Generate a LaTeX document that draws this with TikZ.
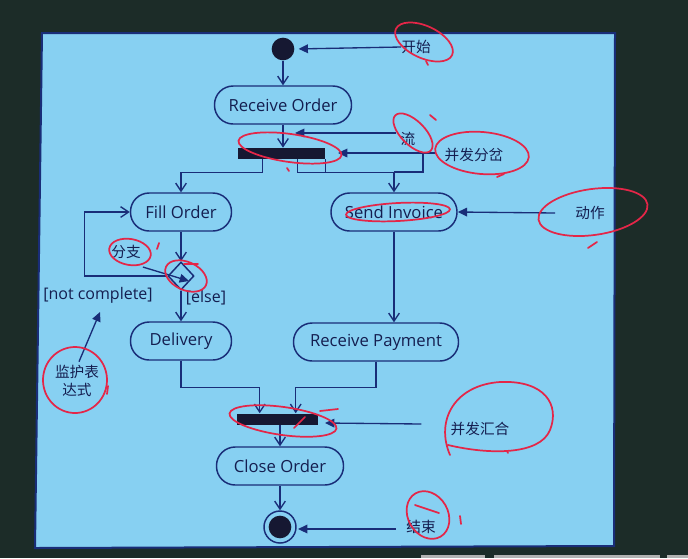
\documentclass[tikz,border=0pt]{standalone}
\usepackage{fontspec}
\setmainfont{Open Sans}
\newfontfamily\cjk{Noto Sans CJK SC}
\usetikzlibrary{arrows.meta,shapes.geometric,calc}
\definecolor{bgc}{RGB}{28,44,40}
\definecolor{panelc}{RGB}{135,208,242}
\definecolor{navy}{RGB}{25,45,120}
\definecolor{textc}{RGB}{20,30,80}
\definecolor{barc}{RGB}{22,24,50}
\definecolor{pen}{RGB}{228,38,72}
\tikzset{
  act/.style={draw=navy, line width=1.1pt, rounded corners=14pt, minimum height=28.5pt, inner sep=0pt, text=textc, font=\fontsize{12.5}{14}\selectfont},
  bar/.style={fill=barc, minimum height=8.25pt, inner sep=0pt},
  flow/.style={draw=navy, line width=1pt, -{Straight Barb[length=6pt,width=8pt]}},
  plainline/.style={draw=navy, line width=1pt},
  note/.style={draw=navy, line width=1pt, -{Triangle[length=7pt,width=6.5pt]}},
  cn/.style={inner sep=0pt, text=textc, font=\cjk\fontsize{11}{13}\selectfont},
  guard/.style={inner sep=0pt, text=textc, font=\fontsize{12}{14}\selectfont},
  redpen/.style={draw=pen, line width=1.3pt, line cap=round},
}
\begin{document}
\begin{tikzpicture}[x=0.75pt,y=-0.75pt]
\useasboundingbox (0,0) rectangle (688,558);
\fill[bgc] (0,0) rectangle (688,558);
% screen panel
\filldraw[fill=panelc, draw=navy, line width=1.5pt] (42,33) -- (615,33) -- (614,546) -- (35,548) -- cycle;
% bottom strips
\fill[gray!60] (421,555) rectangle (485,558);
\fill[gray!60] (494,555) rectangle (660,558);
\fill[gray!60] (667,555) rectangle (688,558);

% activity nodes
\node[circle, fill=barc, minimum size=17pt, inner sep=0pt] (init) at (283,49) {};
\node[act, minimum width=102.75pt] (ro) at (283,105) {Receive Order};
\node[bar, minimum width=65.25pt] (fork) at (281.5,153.5) {};
\node[act, minimum width=75.75pt] (fo) at (181,212) {Fill Order};
\node[act, minimum width=94.5pt] (si) at (394,212) {Send Invoice};
\node[diamond, draw=navy, line width=1.1pt, minimum width=19.5pt, minimum height=21pt, inner sep=0pt] (dec) at (181,276) {};
\node[act, minimum width=75.75pt] (dl) at (181,341) {Delivery};
\node[act, minimum width=123.75pt] (rp) at (376,342) {Receive Payment};
\node[bar, minimum width=60.75pt] (join) at (277.5,419) {};
\node[act, minimum width=95.25pt] (co) at (280,466) {Close Order};
\node[circle, draw=navy, line width=1.1pt, minimum size=24pt, inner sep=0pt] (fin) at (280,527) {};
\node[circle, fill=barc, minimum size=17pt, inner sep=0pt] (finin) at (fin) {};

% guards
\node[guard] (else) at (206,298) {[else]};
\node[guard] (nc) at (98,295) {[not complete]};

% flows
\draw[flow] (init) -- (ro);
\draw[flow] (ro) -- (ro |- fork.north);
\draw[flow] ($(fork.south west)+(25,0)$) -- ++(0,13) -| (fo.north);
\draw[flow] ($(fork.south west)+(60,0)$) -- ++(0,13) -| (si.north);
\draw[plainline] (fork.south east) -- ++(0,13);
\coordinate (brk) at (423,172);
\draw[plainline] (si.north |- brk) -- (brk) -- ++(0,-19);
\draw[flow] (fo) -- (dec);
\draw[flow] (dec.west) -- ++(-83,0) |- (fo.west);
\draw[flow] (dec) -- (dl);
\draw[flow] (si.south) -- (si.south |- rp.north);
\draw[flow] (dl.south) -- ++(0,27) -| ($(join.north west)+(23,0)$);
\draw[flow] (rp.south) -- ++(0,26) -| ($(join.north west)+(59,0)$);
\draw[flow] (join.south -| co) -- (co);
\draw[flow] (co) -- (fin);

% annotations
\node[cn] (tStart) at (416,47) {开始};
\draw[note, shorten >=3pt] (tStart.west) -- (init.east);
\node[cn] (tFlow) at (408,139) {流};
\coordinate (flowpt) at (295,133);
\draw[note] ($(tFlow.west)+(-4,-6)$) -- (flowpt);
\node[cn] (tFork) at (474,155) {并发分岔};
\coordinate (forkpt) at (338,153);
\draw[note] ($(tFork.west)+(-8,-2)$) -- (forkpt);
\node[cn] (tAct) at (590,213) {动作};
\draw[note] ($(tAct.west)+(-20,0)$) -- (si.east);
\node[cn] (tBr) at (126,252) {分支};
\coordinate (brpt) at (189,281);
\draw[note] ($(tBr.south east)+(2,8)$) -- (brpt);
\node[cn, align=center, font=\cjk\fontsize{11}{14}\selectfont] (tGuard) at (77,381) {监护表\\达式};
\coordinate (guardpt) at (100,312);
\draw[note] ($(tGuard.north)+(2,-3)$) -- (guardpt);
\node[cn] (tJoin) at (480,429) {并发汇合};
\coordinate (joinpt) at (325,423);
\draw[note] ($(tJoin.west)+(-29,-5)$) -- (joinpt);
\node[cn] (tEnd) at (421,527) {结束};
\draw[note, shorten >=1pt] ($(tEnd.west)+(-10,2)$) -- (fin.east |- 0,529);

% red handwriting
\draw[redpen] (424,42) ellipse [x radius=31, y radius=16, rotate=-25];
\draw[redpen] (426,61) -- (428,65);
\draw[redpen] (413,133) ellipse [x radius=25, y radius=12, rotate=-45];
\draw[redpen] (430,115) -- (436,120);
\draw[redpen] (290,148) ellipse [x radius=52, y radius=14, rotate=-8];
\draw[redpen] (287,168) -- (289,171);
\draw[redpen] (482,153) ellipse [x radius=47, y radius=21, rotate=-5];
\draw[redpen] (497,177) -- (504,174);
\draw[redpen] (593,212) ellipse [x radius=55, y radius=23, rotate=8];
\draw[redpen] (588,248) -- (597,242);
\draw[redpen] (398,212) ellipse [x radius=52, y radius=9, rotate=3];
\draw[redpen] (130,252) ellipse [x radius=21, y radius=13, rotate=-10];
\draw[redpen] (159,243) -- (157,249);
\draw[redpen] (186,276) ellipse [x radius=22, y radius=14, rotate=-25];
\draw[redpen] (184,264) -- (198,264);
\draw[redpen] (75,380) ellipse [x radius=32, y radius=33];
\draw[redpen] (108,386) -- (107,394);
\draw[redpen] (283,421) ellipse [x radius=54, y radius=14, rotate=-8];
\draw[redpen] (320,411) -- (338,409);
\draw[redpen] (294,428) -- (305,417);
\draw[redpen] (450,455) .. controls (435,420) and (455,385) .. (500,382) .. controls (545,380) and (560,405) .. (550,430) .. controls (540,455) and (490,455) .. (448,445);
\draw[redpen] (507,451) -- (508,453);
\draw[redpen] (428,515) ellipse [x radius=20, y radius=25, rotate=30];
\draw[redpen] (415,505) -- (439,513);
\draw[redpen] (460,516) -- (461,524);
\end{tikzpicture}
\end{document}
